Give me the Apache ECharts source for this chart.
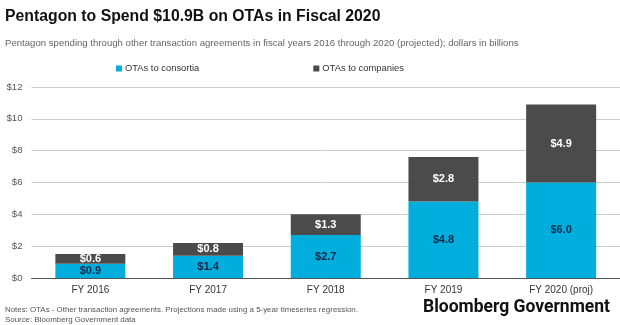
<!DOCTYPE html>
<html><head><meta charset="utf-8">
<script src="https://cdn.jsdelivr.net/npm/echarts@6/dist/echarts.min.js"></script>
<style>html,body{margin:0;padding:0;background:#fff}#c{width:620px;height:325px}</style>
</head><body><div id="c"></div>
<script>
var categories = ['FY 2016','FY 2017','FY 2018','FY 2019','FY 2020 (proj)'];
var consortia = [0.9, 1.4, 2.7, 4.8, 6.0];
var companies = [0.6, 0.8, 1.3, 2.8, 4.9];
var yTicks = [0, 2, 4, 6, 8, 10, 12];

var chart = echarts.init(document.getElementById('c'));
var ff = 'Liberation Sans, Arial, sans-serif';
chart.setOption({
  animation: false,
  textStyle: {fontFamily: ff},
  title: [
    {text: 'Pentagon to Spend $10.9B on OTAs in Fiscal 2020', left: 0, top: 4,
     textStyle: {fontSize: 15.8, fontWeight: 'bold', color: '#111', fontFamily: ff}},
    {text: 'Pentagon spending through other transaction agreements in fiscal years 2016 through 2020 (projected); dollars in billions',
     left: 0, top: 33, textStyle: {fontSize: 9.6, fontWeight: 'normal', color: '#666', fontFamily: ff}},
    {text: 'Notes: OTAs - Other transaction agreements. Projections made using a 5-year timeseries regression.\nSource: Bloomberg Government data',
     left: 0, top: 300, textStyle: {fontSize: 7.9, fontWeight: 'normal', color: '#555', lineHeight: 10, fontFamily: ff}},
    {text: 'Bloomberg Government', right: 5, top: 294,
     textStyle: {fontSize: 17.5, fontWeight: 'bold', color: '#111', fontFamily: 'Roboto, Liberation Sans, sans-serif'}}
  ],
  legend: {
    top: 59, left: 111, itemGap: 114, itemWidth: 6, itemHeight: 6, icon: 'rect',
    textStyle: {fontSize: 9.4, color: '#333', padding: [0,0,0,-2]},
    data: ['OTAs to consortia', 'OTAs to companies']
  },
  grid: {left: 31.5, width: 595, top: 87, bottom: 47, containLabel: false},
  xAxis: {
    type: 'category', data: categories,
    axisLine: {lineStyle: {color: '#555', width: 1}},
    axisTick: {show: false},
    axisLabel: {fontSize: 10, color: '#333', margin: 7}
  },
  yAxis: {
    type: 'value', min: yTicks[0], max: yTicks[yTicks.length-1], interval: 2,
    axisLine: {show: false}, axisTick: {show: false},
    axisLabel: {fontSize: 9.6, color: '#555', margin: 9, formatter: function(v){return '$' + v;}},
    splitLine: {lineStyle: {color: '#ccc', width: 1}}
  },
  series: [
    {name: 'OTAs to consortia', type: 'bar', stack: 't', data: consortia, barWidth: 70,
     itemStyle: {color: '#00AEDE'},
     label: {show: true, position: 'inside', fontSize: 11, fontWeight: 'bold', color: '#0b2a4a',
       formatter: function(p){return '$' + p.value.toFixed(1);}}},
    {name: 'OTAs to companies', type: 'bar', stack: 't', data: companies, barWidth: 70,
     itemStyle: {color: '#4b4b4b'},
     label: {show: true, position: 'inside', fontSize: 11, fontWeight: 'bold', color: '#fff',
       formatter: function(p){return '$' + p.value.toFixed(1);}}}
  ]
});
</script></body></html>
